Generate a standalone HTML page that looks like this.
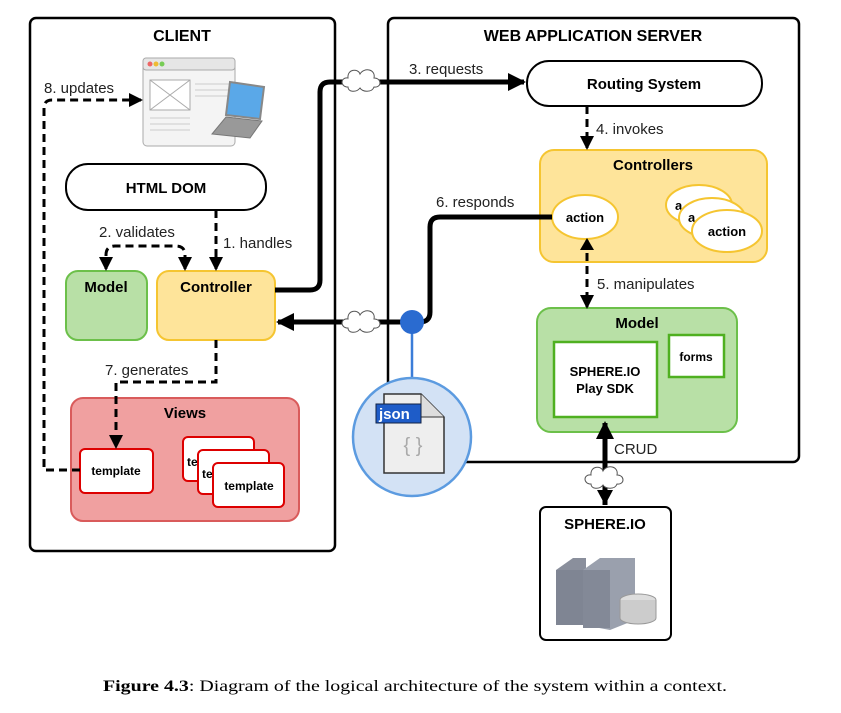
<!DOCTYPE html>
<html><head><style>body{margin:0;background:#fff}svg{display:block}</style></head>
<body>
<svg width="841" height="713" xmlns="http://www.w3.org/2000/svg" font-family="Liberation Sans, sans-serif">
<defs>
<marker id="ah" markerWidth="14" markerHeight="14" refX="12" refY="7" orient="auto" markerUnits="userSpaceOnUse"><path d="M0,0 L14,7 L0,14 z" fill="#000"/></marker>
<marker id="ahb" markerWidth="18" markerHeight="18" refX="16" refY="9" orient="auto" markerUnits="userSpaceOnUse"><path d="M0,0 L18,9 L0,18 z" fill="#000"/></marker>
<g id="cloud"><path d="M-14,6 C-22,6 -22,-4 -14,-3 C-15,-12 -4,-13 -2,-7 C2,-14 14,-12 12,-3 C20,-3 20,7 12,6 C10,12 0,11 -2,7 C-6,12 -14,11 -14,6 z" fill="#fff" stroke="#555" stroke-width="1"/></g>
</defs>
<rect x="30" y="18" width="305" height="533" rx="6" fill="#fff" stroke="#000" stroke-width="2.5"/>
<rect x="388" y="18" width="411" height="444" rx="6" fill="#fff" stroke="#000" stroke-width="2.5"/>
<text x="182" y="41" font-size="16" font-weight="bold" text-anchor="middle">CLIENT</text>
<text x="593" y="41" font-size="16" font-weight="bold" text-anchor="middle">WEB APPLICATION SERVER</text>

<rect x="143" y="58" width="92" height="88" rx="4" fill="#f4f4f4" stroke="#aaa"/>
<rect x="143" y="58" width="92" height="12" rx="3" fill="#e6e6e6" stroke="#aaa"/>
<circle cx="150" cy="64" r="2.5" fill="#e66"/><circle cx="156" cy="64" r="2.5" fill="#eb3"/><circle cx="162" cy="64" r="2.5" fill="#7c5"/>
<rect x="150" y="80" width="40" height="30" fill="#fff" stroke="#aaa"/><path d="M150,80 L190,110 M190,80 L150,110" stroke="#aaa"/>
<path d="M195,84h35M195,90h35M195,96h35M150,118h40M150,124h40M150,130h40" stroke="#ccc"/>
<path d="M230,82 L264,87 L260,119 L226,115 z" fill="#5aa8e8" stroke="#888" stroke-width="2"/>
<path d="M226,117 L262,121 L250,138 L212,134 z" fill="#999" stroke="#777"/>

<rect x="66" y="164" width="200" height="46" rx="22" fill="#fff" stroke="#000" stroke-width="2"/>
<text x="166" y="193" font-size="15" font-weight="bold" text-anchor="middle">HTML DOM</text>
<rect x="66" y="271" width="81" height="69" rx="12" fill="#b8e0a6" stroke="#6cc04a" stroke-width="2"/>
<text x="106" y="292" font-size="15" font-weight="bold" text-anchor="middle">Model</text>
<rect x="157" y="271" width="118" height="69" rx="12" fill="#fee49a" stroke="#f5c531" stroke-width="2"/>
<text x="216" y="292" font-size="15" font-weight="bold" text-anchor="middle">Controller</text>
<rect x="71" y="398" width="228" height="123" rx="12" fill="#f0a0a0" stroke="#d95b5b" stroke-width="2"/>
<text x="185" y="418" font-size="15" font-weight="bold" text-anchor="middle">Views</text>
<rect x="80" y="449" width="73" height="44" rx="5" fill="#fff" stroke="#d00" stroke-width="2"/>
<text x="116" y="475" font-size="12" font-weight="bold" text-anchor="middle">template</text>
<rect x="183" y="437" width="71" height="44" rx="5" fill="#fff" stroke="#d00" stroke-width="2"/>
<text x="187" y="466" font-size="12" font-weight="bold">te</text>
<rect x="198" y="450" width="71" height="44" rx="5" fill="#fff" stroke="#d00" stroke-width="2"/>
<text x="202" y="478" font-size="12" font-weight="bold">te</text>
<rect x="213" y="463" width="71" height="44" rx="5" fill="#fff" stroke="#d00" stroke-width="2"/>
<text x="249" y="490" font-size="12" font-weight="bold" text-anchor="middle">template</text>

<g fill="none" stroke="#000" stroke-width="3" stroke-dasharray="8,5">
<path d="M216,210 V269" marker-end="url(#ah)"/>
<path d="M106,269 V255 Q106,246 115,246 H176 Q185,246 185,255 V269" marker-end="url(#ah)"/>
<path d="M106,262 V269" marker-end="url(#ah)"/>
<path d="M216,340 V382 H116 V447" marker-end="url(#ah)"/>
<path d="M80,470 H44 V108 Q44,100 52,100 H141" marker-end="url(#ah)"/>
</g>
<text x="223" y="248" font-size="15" fill="#222">1. handles</text>
<text x="99" y="237" font-size="15" fill="#222">2. validates</text>
<text x="105" y="375" font-size="15" fill="#222">7. generates</text>
<text x="44" y="93" font-size="15" fill="#222">8. updates</text>

<rect x="527" y="61" width="235" height="45" rx="22" fill="#fff" stroke="#000" stroke-width="2"/>
<text x="644" y="89" font-size="15" font-weight="bold" text-anchor="middle">Routing System</text>
<rect x="540" y="150" width="227" height="112" rx="14" fill="#fee49a" stroke="#f5c531" stroke-width="2"/>
<text x="653" y="170" font-size="15" font-weight="bold" text-anchor="middle">Controllers</text>
<ellipse cx="585" cy="217" rx="33" ry="22" fill="#fff" stroke="#f5c531" stroke-width="2"/>
<text x="585" y="222" font-size="13" font-weight="bold" text-anchor="middle">action</text>
<ellipse cx="699" cy="205" rx="33" ry="20" fill="#fff" stroke="#f5c531" stroke-width="2"/>
<text x="675" y="210" font-size="13" font-weight="bold">a</text>
<ellipse cx="712" cy="218" rx="33" ry="20" fill="#fff" stroke="#f5c531" stroke-width="2"/>
<text x="688" y="222" font-size="13" font-weight="bold">a</text>
<ellipse cx="727" cy="231" rx="35" ry="21" fill="#fff" stroke="#f5c531" stroke-width="2"/>
<text x="727" y="236" font-size="13" font-weight="bold" text-anchor="middle">action</text>
<rect x="537" y="308" width="200" height="124" rx="14" fill="#b8e0a6" stroke="#6cc04a" stroke-width="2"/>
<text x="637" y="328" font-size="15" font-weight="bold" text-anchor="middle">Model</text>
<rect x="554" y="342" width="103" height="75" fill="#fff" stroke="#4fb020" stroke-width="2.5"/>
<text x="605" y="376" font-size="13" font-weight="bold" text-anchor="middle">SPHERE.IO</text>
<text x="605" y="393" font-size="13" font-weight="bold" text-anchor="middle">Play SDK</text>
<rect x="669" y="335" width="55" height="42" fill="#fff" stroke="#4fb020" stroke-width="2.5"/>
<text x="696" y="361" font-size="12" font-weight="bold" text-anchor="middle">forms</text>

<g fill="none" stroke="#000" stroke-width="3" stroke-dasharray="8,5">
<path d="M587,106 V148" marker-end="url(#ah)"/>
<path d="M587,240 V307" marker-end="url(#ah)"/>
</g>
<path d="M580,250 L587,238 L594,250 z" fill="#000"/>
<text x="596" y="134" font-size="15" fill="#222">4. invokes</text>
<text x="597" y="289" font-size="15" fill="#222">5. manipulates</text>

<path d="M275,290 H310 Q320,290 320,280 V92 Q320,82 330,82 H524" fill="none" stroke="#000" stroke-width="5" marker-end="url(#ahb)"/>
<use href="#cloud" x="362" y="81"/>
<text x="409" y="74" font-size="15" fill="#222">3. requests</text>
<path d="M552,217 H440 Q430,217 430,227 V312 Q430,322 420,322 H278" fill="none" stroke="#000" stroke-width="5" marker-end="url(#ahb)"/>
<use href="#cloud" x="362" y="322"/>
<text x="436" y="207" font-size="15" fill="#222">6. responds</text>
<line x1="412" y1="322" x2="412" y2="378" stroke="#3b7dd8" stroke-width="2.5"/>
<circle cx="412" cy="322" r="12" fill="#2a6bd0"/>
<circle cx="412" cy="437" r="59" fill="#d3e2f5" stroke="#5c9be0" stroke-width="2.5"/>
<path d="M384,394 H421 L444,417 V473 H384 z" fill="#eee" stroke="#333" stroke-width="1.5"/>
<path d="M421,394 V417 H444" fill="#ddd" stroke="#333" stroke-width="1"/>
<rect x="376" y="404" width="45" height="19" fill="#1e5cc8" stroke="#124" stroke-width="1"/>
<text x="379" y="419" font-size="15" font-weight="bold" fill="#fff">json</text>
<text x="413" y="452" font-size="20" fill="#aaa" text-anchor="middle">{ }</text>

<path d="M605,505 V423" fill="none" stroke="#000" stroke-width="5" marker-end="url(#ahb)"/>
<path d="M597,490 L605,505 L613,490 z" fill="#000"/>
<use href="#cloud" x="605" y="478"/>
<text x="614" y="454" font-size="15" fill="#222">CRUD</text>
<rect x="540" y="507" width="131" height="133" rx="6" fill="#fff" stroke="#000" stroke-width="2"/>
<text x="605" y="529" font-size="15" font-weight="bold" text-anchor="middle">SPHERE.IO</text>
<path d="M556,570 L573,558 L586,558 L586,625 L556,625 z" fill="#8a8f9c"/>
<path d="M583,570 L600,558 L635,558 L635,620 L610,630 L583,625 z" fill="#9aa0ad"/>
<rect x="556" y="570" width="27" height="55" fill="#7f8593"/>
<rect x="583" y="570" width="27" height="58" fill="#838997"/>
<ellipse cx="638" cy="600" rx="18" ry="6" fill="#ddd" stroke="#999"/>
<path d="M620,600 V618 A18,6 0 0 0 656,618 V600" fill="#ccc" stroke="#999"/>

<text x="103" y="691" font-size="16" textLength="624" lengthAdjust="spacingAndGlyphs" font-family="Liberation Serif, serif"><tspan font-weight="bold">Figure 4.3</tspan>: Diagram of the logical architecture of the system within a context.</text>
</svg>
</body></html>
